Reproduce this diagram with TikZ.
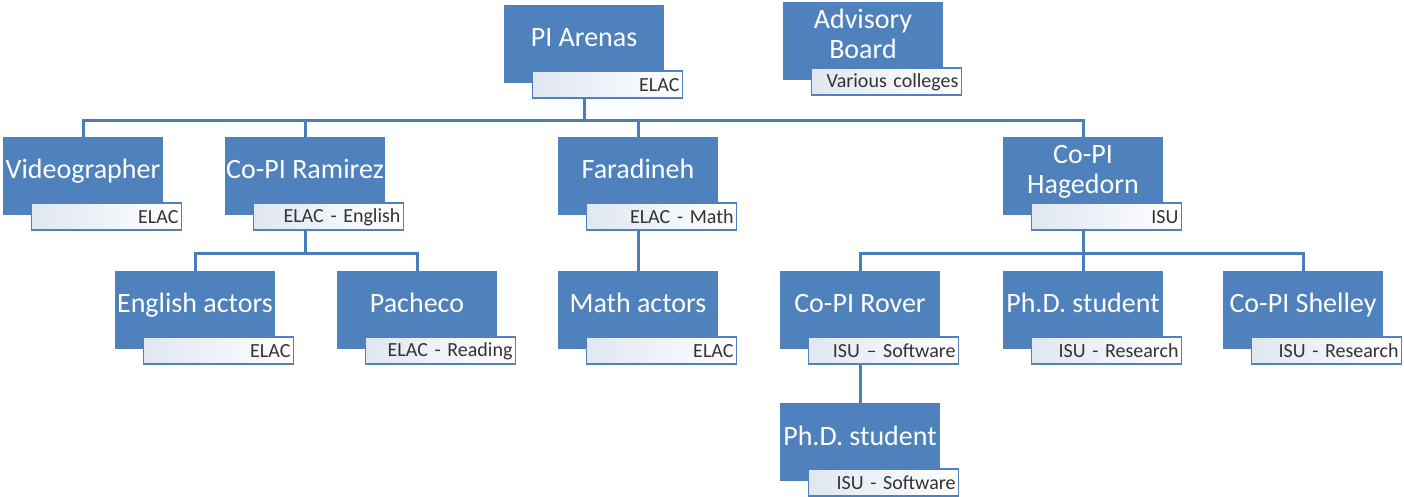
\documentclass[tikz,border=0pt]{standalone}
\usepackage{fontspec}
\setmainfont{Carlito}
\usetikzlibrary{positioning,calc}
\definecolor{boxblue}{HTML}{4F81BD}
\definecolor{linkblue}{HTML}{4A7EBB}
\definecolor{orgshade}{HTML}{E0E7F1}

\begin{document}
\begin{tikzpicture}[
	x=0.5pt, y=-0.5pt,
	member/.style={fill=boxblue, minimum width=80pt, minimum height=39pt, inner sep=0pt, align=center, text=white, font=\fontsize{14pt}{15pt}\selectfont, text height=10pt, text depth=7pt},
	twoline/.style={text height=25pt},
	org/.style={draw=boxblue, line width=0.9pt, left color=orgshade, right color=white, minimum height=13.5pt, text width=72pt, align=right, inner xsep=1.5pt, inner ysep=0pt, font=\fontsize{10pt}{11pt}\selectfont, text=black!80, anchor=north east},
	link/.style={draw=linkblue, line width=1.5pt}
	]
	\useasboundingbox (0,0) rectangle (1404,497);
	
	% top row
	\node[member] (arenas) at (584,44) {PI Arenas};
	\node[org] (arenas-org) at ($(arenas.south east)+(19,-13)$) {ELAC};
	\node[member, twoline] (advisory) at (863,41) {Advisory\\Board};
	\node[org] (advisory-org) at ($(advisory.south east)+(19,-13)$) {Various colleges};
	
	% second row
	\node[member] (video) at (83,176) {Videographer};
	\node[org] (video-org) at ($(video.south east)+(19,-13)$) {ELAC};
	\node[member] (ramirez) at (305,176) {Co-PI Ramirez};
	\node[org] (ramirez-org) at ($(ramirez.south east)+(19,-13)$) {ELAC - English};
	\node[member] (faradineh) at (638,176) {Faradineh};
	\node[org] (faradineh-org) at ($(faradineh.south east)+(19,-13)$) {ELAC - Math};
	\node[member, twoline] (hagedorn) at (1083,176) {Co-PI\\Hagedorn};
	\node[org] (hagedorn-org) at ($(hagedorn.south east)+(19,-13)$) {ISU};
	
	% third row
	\node[member] (english) at (195,310) {English actors};
	\node[org] (english-org) at ($(english.south east)+(19,-13)$) {ELAC};
	\node[member] (pacheco) at (417,310) {Pacheco};
	\node[org] (pacheco-org) at ($(pacheco.south east)+(19,-13)$) {ELAC - Reading};
	\node[member] (mathact) at (638,310) {Math actors};
	\node[org] (mathact-org) at ($(mathact.south east)+(19,-13)$) {ELAC};
	\node[member] (rover) at (860,310) {Co-PI Rover};
	\node[org] (rover-org) at ($(rover.south east)+(19,-13)$) {ISU – Software};
	\node[member] (phdres) at (1083,310) {Ph.D. student};
	\node[org] (phdres-org) at ($(phdres.south east)+(19,-13)$) {ISU - Research};
	\node[member] (shelley) at (1303,310) {Co-PI Shelley};
	\node[org] (shelley-org) at ($(shelley.south east)+(19,-13)$) {ISU - Research};
	
	% fourth row
	\node[member] (phdsw) at (860,442) {Ph.D. student};
	\node[org] (phdsw-org) at ($(phdsw.south east)+(19,-13)$) {ISU - Software};
	
	% connectors
	\coordinate (bus1) at ($(arenas |- arenas-org.south)+(0,21)$);
	\draw[link] (arenas |- arenas-org.south) -- (bus1);
	\draw[link] (video.north) |- (hagedorn.north |- bus1) -- (hagedorn.north);
	\draw[link] (ramirez.north) -- (ramirez.north |- bus1);
	\draw[link] (faradineh.north) -- (faradineh.north |- bus1);
	
	\coordinate (bus2) at ($(ramirez |- ramirez-org.south)+(0,22)$);
	\draw[link] (ramirez |- ramirez-org.south) -- (bus2);
	\draw[link] (english.north) |- (pacheco.north |- bus2) -- (pacheco.north);
	
	\draw[link] (faradineh |- faradineh-org.south) -- (mathact.north);
	
	\coordinate (bus3) at ($(hagedorn |- hagedorn-org.south)+(0,22)$);
	\draw[link] (hagedorn |- hagedorn-org.south) -- (bus3);
	\draw[link] (rover.north) |- (shelley.north |- bus3) -- (shelley.north);
	\draw[link] (phdres.north) -- (phdres.north |- bus3);
	
	\draw[link] (rover |- rover-org.south) -- (phdsw.north);
	
\end{tikzpicture}
\end{document}
